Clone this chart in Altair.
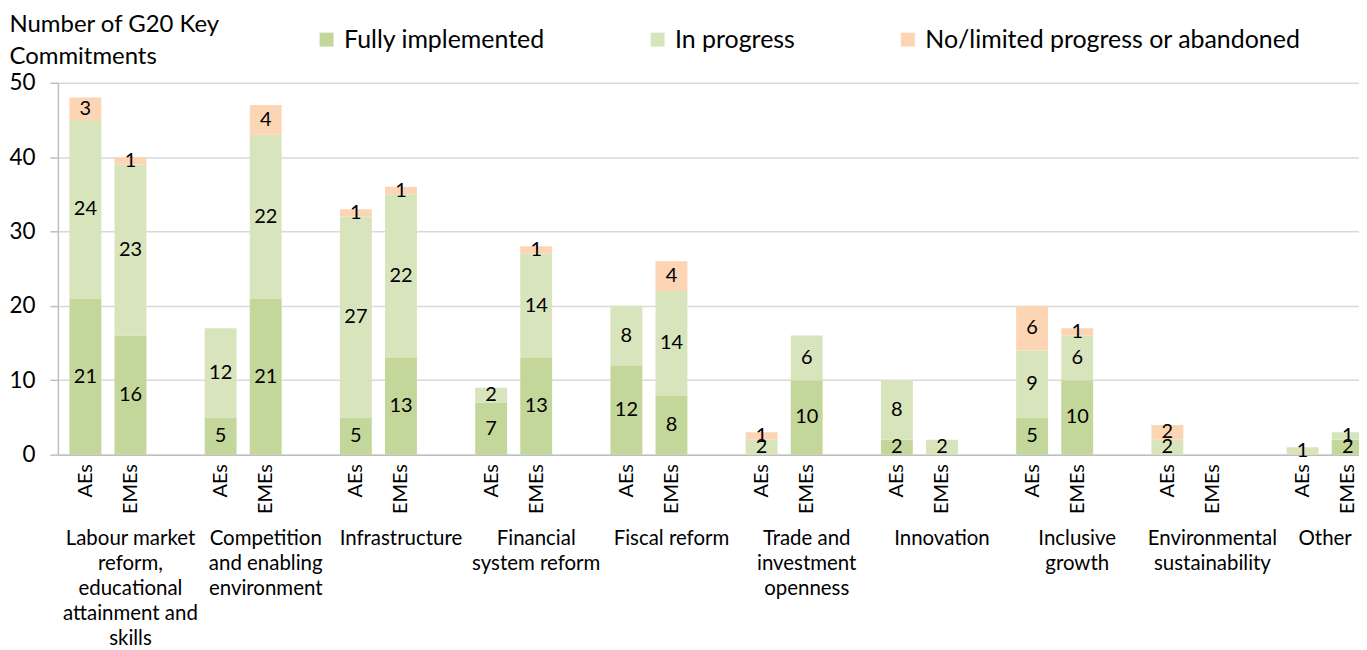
import altair as alt
import pandas as pd

FONT = "Lato"

categories = [
    "Labour market\nreform,\neducational\nattainment and\nskills",
    "Competition\nand enabling\nenvironment",
    "Infrastructure",
    "Financial\nsystem reform",
    "Fiscal reform",
    "Trade and\ninvestment\nopenness",
    "Innovation",
    "Inclusive\ngrowth",
    "Environmental\nsustainability",
    "Other",
]
groups = ["AEs", "EMEs"]
statuses = ["Fully implemented", "In progress", "No/limited progress or abandoned"]
colors = ["#C4D79B", "#D8E4BC", "#FCD5B4"]
y_title = ["Number of G20 Key", "Commitments"]

fully_aes = [21, 5, 5, 7, 12, 0, 2, 5, 0, 0]
progress_aes = [24, 12, 27, 2, 8, 2, 8, 9, 2, 1]
none_aes = [3, 0, 1, 0, 0, 1, 0, 6, 2, 0]

fully_emes = [16, 21, 13, 13, 8, 10, 0, 10, 0, 2]
progress_emes = [23, 22, 22, 14, 14, 6, 2, 6, 0, 1]
none_emes = [1, 4, 1, 1, 4, 0, 0, 1, 0, 0]

series = {
    "AEs": (fully_aes, progress_aes, none_aes),
    "EMEs": (fully_emes, progress_emes, none_emes),
}

n_cat = len(categories)
last_slot = 3 * (n_cat - 1) + 1

rows = []
bar_slots = []
for i, cat in enumerate(categories):
    for gi, g in enumerate(groups):
        slot = 3 * i + gi
        bar_slots.append(slot)
        base = 0
        for s, vals in zip(statuses, series[g]):
            v = vals[i]
            if v > 0:
                rows.append(dict(cat=cat, group=g, slot=slot, status=s, v=v,
                                 y0=base, y1=base + v, mid=base + v / 2))
            base += v
df = pd.DataFrame(rows)

lab_df = pd.DataFrame({
    "label": categories,
    "pos": [(3 * i + min(3 * i + 2, last_slot)) / 2 for i in range(n_cat)],
})

xscale = alt.Scale(domain=[-0.5, 28.14], nice=False, zero=False)
yscale = alt.Scale(domain=[0, 50], nice=False)

bars = alt.Chart(df).mark_bar(size=32, clip=True).encode(
    x=alt.X("slot:Q", scale=xscale, axis=alt.Axis(
        values=bar_slots,
        labelExpr="datum.value % 3 == 0 ? 'AEs' : 'EMEs'",
        labelAngle=-90, labelAlign="right", labelBaseline="middle",
        labelFlush=False, labelOverlap=False,
        grid=False, ticks=False, domainColor="#BFBFBF", domainWidth=1.5,
        labelFontSize=20, labelFont=FONT, labelColor="black",
        labelPadding=9, title=None)),
    y=alt.Y("y0:Q", scale=yscale, axis=alt.Axis(
        values=[0, 10, 20, 30, 40, 50],
        gridColor="#D9D9D9", gridWidth=1.5,
        domainColor="#BFBFBF", domainWidth=1.5,
        tickColor="#BFBFBF", tickSize=8, tickWidth=1.5,
        labelFontSize=22.5, labelFont=FONT, labelColor="black",
        labelPadding=15, minExtent=50, maxExtent=50,
        title=y_title, titleAngle=0, titleX=-49, titleY=-51,
        titleAlign="left", titleBaseline="alphabetic",
        titleFont=FONT, titleFontSize=24, titleFontWeight="normal",
        titleColor="black", titleLineHeight=32)),
    y2="y1:Q",
    color=alt.Color("status:N", scale=alt.Scale(domain=statuses, range=colors),
                    legend=alt.Legend(
                        orient="none", legendX=257, legendY=-56,
                        direction="horizontal", title=None,
                        symbolType="square", symbolSize=196,
                        symbolStrokeWidth=0, labelOffset=5,
                        labelFontSize=25, labelFont=FONT, labelColor="black",
                        columnPadding=100, labelLimit=0)),
)

values = alt.Chart(df).mark_text(fontSize=20, font=FONT, color="black",
                                 baseline="middle").encode(
    x=alt.X("slot:Q", scale=xscale),
    y=alt.Y("mid:Q", scale=yscale),
    text="v:Q",
)

cat_labels = alt.Chart(lab_df).mark_text(
    fontSize=20.5, font=FONT, color="black", baseline="top", align="center",
    lineBreak="\n", lineHeight=25,
).encode(
    x=alt.X("pos:Q", scale=xscale),
    y=alt.value(448),
    text="label:N",
)

chart = alt.layer(bars, values, cat_labels).properties(
    width=1305, height=373,
    padding={"left": 0, "top": 4, "right": 0, "bottom": 0},
).configure_view(stroke=None)

chart.save("out.html", embed_options={"renderer": "svg", "actions": False})
